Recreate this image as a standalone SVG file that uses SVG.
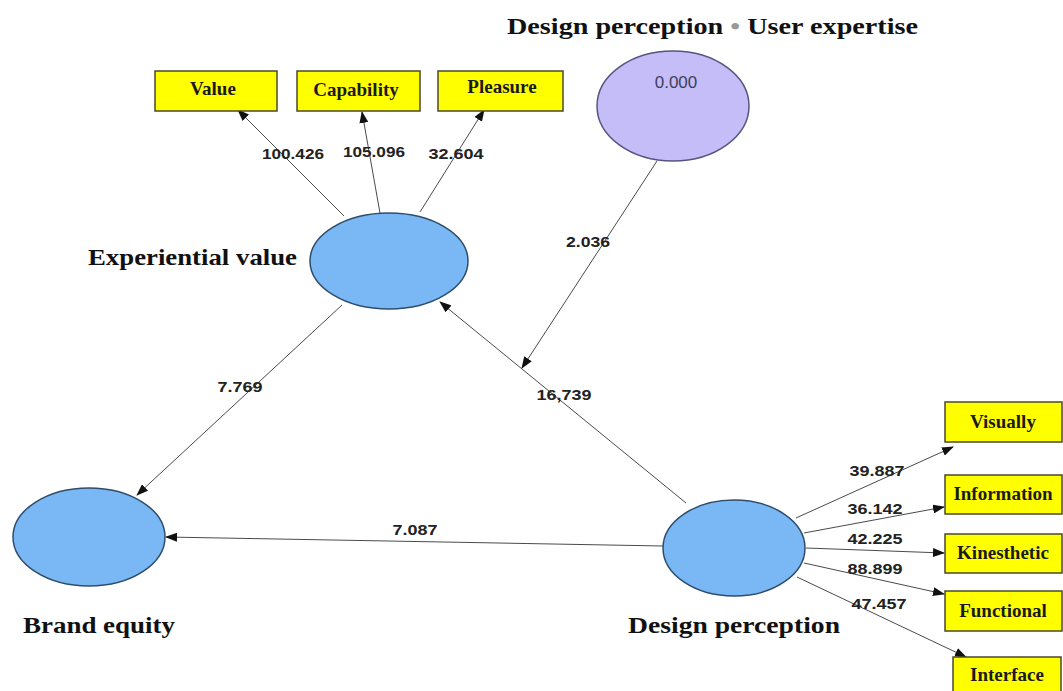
<svg xmlns="http://www.w3.org/2000/svg" width="1063" height="691" viewBox="0 0 1063 691">
  <style>
    .latent { fill: #79b8f4; stroke: #2f4d6b; stroke-width: 1.5; }
    .moderator { fill: #c4bdf8; stroke: #55557f; stroke-width: 1.5; }
    .indicator { fill: #ffff00; stroke: #4a4a2a; stroke-width: 1.5; }
    .ind-text { font-family: "Liberation Serif", "DejaVu Serif", serif; font-weight: bold; font-size: 19px; fill: #1a1a1a; text-anchor: middle; }
    .title { font-family: "Liberation Serif", "DejaVu Serif", serif; font-weight: bold; font-size: 23px; fill: #111; }
    .edge { stroke: #4a4a4a; stroke-width: 1; fill: none; marker-end: url(#arrow); }
    .coef { font-family: "Liberation Sans", Arial, sans-serif; font-weight: bold; font-size: 15px; fill: #222; text-anchor: middle; }
    .mod-text { font-family: "Liberation Sans", Arial, sans-serif; font-size: 17px; fill: #3e3e58; text-anchor: middle; }
  </style>
  <defs>
    <marker id="arrow" markerWidth="12" markerHeight="9" refX="11" refY="4.5" orient="auto" markerUnits="userSpaceOnUse">
      <path d="M0,0 L12,4.5 L0,9 z" fill="#111"/>
    </marker>
  </defs>
  <rect width="1063" height="691" fill="#ffffff"/>

  <!-- path coefficients and loadings -->
  <g id="connectors">
    <line class="edge" x1="344" y1="216" x2="238" y2="110"/>
    <line class="edge" x1="380" y1="213" x2="362" y2="112"/>
    <line class="edge" x1="420" y1="212" x2="484" y2="110"/>
    <line class="edge" x1="657" y1="161" x2="522" y2="368"/>
    <line class="edge" x1="686" y1="503" x2="440" y2="302"/>
    <line class="edge" x1="342" y1="305" x2="137" y2="495"/>
    <line class="edge" x1="663" y1="546" x2="166" y2="537"/>
    <line class="edge" x1="796" y1="518" x2="953" y2="447"/>
    <line class="edge" x1="804" y1="533" x2="944" y2="507"/>
    <line class="edge" x1="806" y1="548" x2="944" y2="553"/>
    <line class="edge" x1="804" y1="563" x2="944" y2="594"/>
    <line class="edge" x1="797" y1="577" x2="966" y2="657"/>

    <text class="coef" x="293" y="159" textLength="62" lengthAdjust="spacingAndGlyphs">100.426</text>
    <text class="coef" x="374" y="157" textLength="62" lengthAdjust="spacingAndGlyphs">105.096</text>
    <text class="coef" x="456" y="159" textLength="55" lengthAdjust="spacingAndGlyphs">32.604</text>
    <text class="coef" x="588" y="247" textLength="44" lengthAdjust="spacingAndGlyphs">2.036</text>
    <text class="coef" x="564" y="400" textLength="55" lengthAdjust="spacingAndGlyphs">16,739</text>
    <text class="coef" x="240" y="392" textLength="45" lengthAdjust="spacingAndGlyphs">7.769</text>
    <text class="coef" x="415" y="535" textLength="45" lengthAdjust="spacingAndGlyphs">7.087</text>
    <text class="coef" x="877" y="476" textLength="55" lengthAdjust="spacingAndGlyphs">39.887</text>
    <text class="coef" x="875" y="514" textLength="55" lengthAdjust="spacingAndGlyphs">36.142</text>
    <text class="coef" x="875" y="544" textLength="55" lengthAdjust="spacingAndGlyphs">42.225</text>
    <text class="coef" x="875" y="574" textLength="55" lengthAdjust="spacingAndGlyphs">88.899</text>
    <text class="coef" x="879" y="609" textLength="55" lengthAdjust="spacingAndGlyphs">47.457</text>
  </g>

  <g id="interaction-term">
    <text class="title" x="507" y="34" textLength="411" lengthAdjust="spacingAndGlyphs">Design perception <tspan fill="#9a9a9a">•</tspan> User expertise</text>
    <ellipse class="moderator" cx="673" cy="106" rx="76" ry="55"/>
    <text class="mod-text" x="676" y="88">0.000</text>
  </g>

  <g id="experiential-value">
    <ellipse class="latent" cx="389" cy="261" rx="79" ry="48"/>
    <text class="title" x="88" y="265" textLength="209" lengthAdjust="spacingAndGlyphs">Experiential value</text>
  </g>

  <g id="brand-equity">
    <ellipse class="latent" cx="89" cy="537" rx="76" ry="49"/>
    <text class="title" x="23" y="633" textLength="152" lengthAdjust="spacingAndGlyphs">Brand equity</text>
  </g>

  <g id="design-perception">
    <ellipse class="latent" cx="734" cy="548" rx="71" ry="48"/>
    <text class="title" x="628" y="633" textLength="212" lengthAdjust="spacingAndGlyphs">Design perception</text>
  </g>

  <g id="value">
    <rect class="indicator" x="155" y="71" width="122" height="40"/>
    <text class="ind-text" x="213" y="95">Value</text>
  </g>
  <g id="capability">
    <rect class="indicator" x="297" y="71" width="123" height="40"/>
    <text class="ind-text" x="356" y="96">Capability</text>
  </g>
  <g id="pleasure">
    <rect class="indicator" x="438" y="71" width="125" height="40"/>
    <text class="ind-text" x="502" y="93">Pleasure</text>
  </g>

  <g id="visually">
    <rect class="indicator" x="945" y="402" width="117" height="40"/>
    <text class="ind-text" x="1003" y="428">Visually</text>
  </g>
  <g id="information">
    <rect class="indicator" x="945" y="475" width="117" height="39"/>
    <text class="ind-text" x="1003" y="500">Information</text>
  </g>
  <g id="kinesthetic">
    <rect class="indicator" x="945" y="534" width="117" height="39"/>
    <text class="ind-text" x="1003" y="559">Kinesthetic</text>
  </g>
  <g id="functional">
    <rect class="indicator" x="945" y="591" width="117" height="40"/>
    <text class="ind-text" x="1003" y="617">Functional</text>
  </g>
  <g id="interface">
    <rect class="indicator" x="953" y="657" width="108" height="40"/>
    <text class="ind-text" x="1007" y="681">Interface</text>
  </g>
</svg>
